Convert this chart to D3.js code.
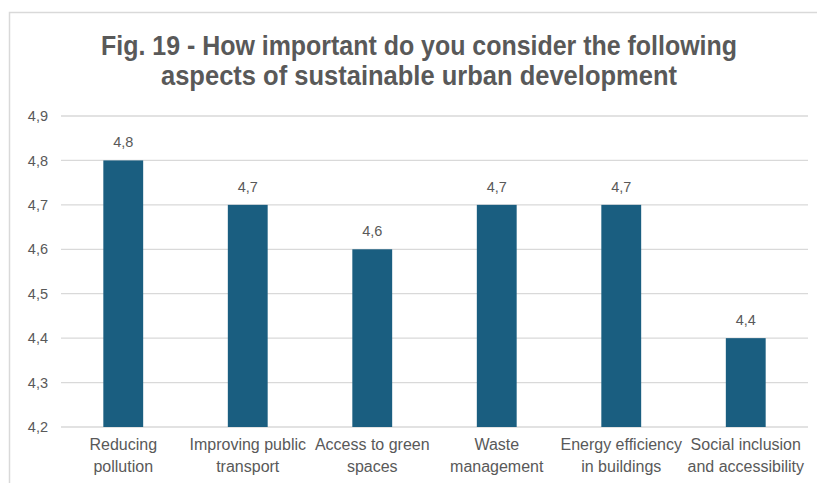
<!DOCTYPE html>
<html>
<head>
<meta charset="utf-8">
<script src="https://cdn.jsdelivr.net/npm/d3@7"></script>
<style>
  html, body { margin: 0; padding: 0; background: #fff; }
  svg { display: block; }
</style>
</head>
<body>
<svg id="chart" width="817" height="483"></svg>
<script>
// Survey results: mean importance score per aspect
const categories = [
  ["Reducing", "pollution"],
  ["Improving public", "transport"],
  ["Access to green", "spaces"],
  ["Waste", "management"],
  ["Energy efficiency", "in buildings"],
  ["Social inclusion", "and accessibility"]
];
const values = [4.8, 4.7, 4.6, 4.7, 4.7, 4.4];
const yTicks = [4.2, 4.3, 4.4, 4.5, 4.6, 4.7, 4.8, 4.9];
const titleLines = [
  "Fig. 19 - How important do you consider the following",
  "aspects of sustainable urban development"
];

const svg = d3.select("#chart");
const W = 817, H = 483;
const margin = { left: 61, right: 9, top: 116, bottom: 56 };
const fmt = v => d3.format(".1f")(v).replace(".", ",");
const textColor = "#595959";
const narrow = "'Liberation Sans Narrow', 'Arial Narrow', sans-serif";
const regular = "'Liberation Sans', Arial, sans-serif";

// Chart frame (open on the right)
svg.append("path")
  .attr("d", `M${W},12.5 H9.5 V${H}`)
  .attr("fill", "none")
  .attr("stroke", "#d9d9d9")
  .attr("stroke-width", 1.5);

const x = d3.scaleBand()
  .domain(d3.range(categories.length))
  .range([margin.left, W - margin.right])
  .paddingInner(0.68)
  .paddingOuter(0.34);

const y = d3.scaleLinear()
  .domain([4.2, 4.9])
  .range([H - margin.bottom, margin.top]);

// Gridlines
svg.append("g")
  .selectAll("line")
  .data(yTicks)
  .join("line")
  .attr("x1", margin.left)
  .attr("x2", W - margin.right)
  .attr("y1", d => y(d))
  .attr("y2", d => y(d))
  .attr("stroke", "#d9d9d9")
  .attr("stroke-width", 1.3);

// Y axis labels
const yAxis = d3.axisLeft(y).tickValues(yTicks).tickFormat(fmt).tickSize(0).tickPadding(13);
const yg = svg.append("g")
  .attr("transform", `translate(${margin.left},0)`)
  .call(yAxis);
yg.select(".domain").remove();
yg.selectAll("text")
  .attr("fill", textColor)
  .style("font-family", regular)
  .style("font-size", "14.5px");

// Bars
svg.append("g")
  .selectAll("rect")
  .data(values)
  .join("rect")
  .attr("x", (d, i) => x(i))
  .attr("width", x.bandwidth())
  .attr("y", d => y(d))
  .attr("height", d => y(4.2) - y(d))
  .attr("fill", "#1a5e80");

// Value labels
svg.append("g")
  .selectAll("text")
  .data(values)
  .join("text")
  .attr("x", (d, i) => x(i) + x.bandwidth() / 2)
  .attr("y", d => y(d) - 13)
  .attr("text-anchor", "middle")
  .attr("fill", textColor)
  .style("font-family", regular)
  .style("font-size", "14.5px")
  .text(fmt);

// Category labels
const cg = svg.append("g")
  .selectAll("text")
  .data(categories)
  .join("text")
  .attr("x", (d, i) => x(i) + x.bandwidth() / 2)
  .attr("y", H - margin.bottom + 23)
  .attr("text-anchor", "middle")
  .attr("fill", textColor)
  .style("font-family", narrow)
  .style("font-size", "16px");
cg.selectAll("tspan")
  .data(d => d)
  .join("tspan")
  .attr("x", function () { return d3.select(this.parentNode).attr("x"); })
  .attr("dy", (d, i) => i === 0 ? 0 : 22)
  .text(d => d);

// Title, condensed to fit its line widths
const titleWidths = [636, 516];
svg.append("g")
  .selectAll("text")
  .data(titleLines)
  .join("text")
  .attr("x", 419)
  .attr("y", (d, i) => 55 + i * 30)
  .attr("text-anchor", "middle")
  .attr("fill", textColor)
  .attr("textLength", (d, i) => titleWidths[i])
  .attr("lengthAdjust", "spacingAndGlyphs")
  .style("font-family", narrow)
  .style("font-weight", "bold")
  .style("font-size", "27px")
  .text(d => d);
</script>
</body>
</html>
